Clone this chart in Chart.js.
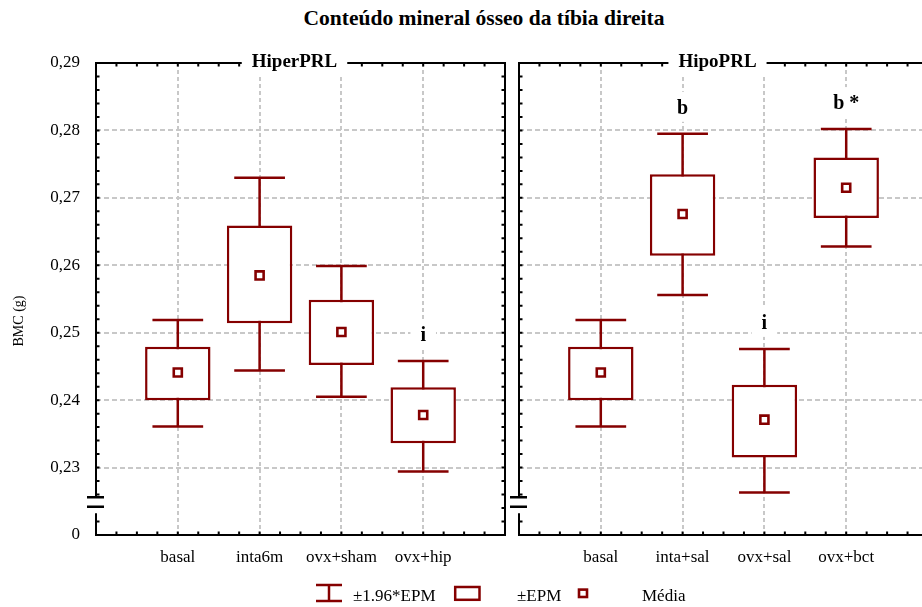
<!DOCTYPE html>
<html>
<head>
<meta charset="utf-8">
<script src="https://cdn.jsdelivr.net/npm/chart.js@4.4.1/dist/chart.umd.min.js"></script>
<style>
  html, body { margin: 0; padding: 0; background: #fff; }
  body { width: 922px; height: 607px; overflow: hidden; position: relative;
         font-family: "Liberation Serif", "Times New Roman", serif; color: #000; }
  #title { position: absolute; top: 6px; left: 484px; transform: translateX(-50%);
           white-space: nowrap; font-weight: bold; font-size: 21.5px; line-height: 24px; }
  canvas { position: absolute; top: 0; }
  #cLeft { left: 0; }
  #cRight { left: 506px; }
  #legIcons { position: absolute; left: 310px; top: 580px; }
  .legText { position: absolute; top: 586px; font-size: 17px; line-height: 20px; white-space: nowrap; }
</style>
</head>
<body>
<div id="title">Conteúdo mineral ósseo da tíbia direita</div>
<canvas id="cLeft" width="512" height="607"></canvas>
<canvas id="cRight" width="426" height="607"></canvas>

<svg id="legIcons" width="290" height="26" xmlns="http://www.w3.org/2000/svg">
  <g stroke="#850000" fill="none" stroke-width="2.5">
    <line x1="6" y1="5" x2="32" y2="5"/>
    <line x1="19" y1="5" x2="19" y2="21"/>
    <line x1="6" y1="21" x2="32" y2="21"/>
    <rect x="145.2" y="7" width="24.3" height="12.8"/>
    <rect x="269" y="9.6" width="8" height="7.4" stroke-width="2.6"/>
  </g>
</svg>
<div class="legText" style="left:353px">±1.96*EPM</div>
<div class="legText" style="left:517px">±EPM</div>
<div class="legText" style="left:642px">Média</div>

<script>
// ---- data ----
const yTickValues = [0.22, 0.23, 0.24, 0.25, 0.26, 0.27, 0.28, 0.29];
const yTickLabels = ['0', '0,23', '0,24', '0,25', '0,26', '0,27', '0,28', '0,29'];

// HiperPRL
const hiperCategories = ['basal', 'inta6m', 'ovx+sham', 'ovx+hip'];
const hiperMean    = [0.2441, 0.2585, 0.2501, 0.2378];
const hiperEpmLow  = [0.2400, 0.2514, 0.2452, 0.2336];
const hiperEpmHigh = [0.2479, 0.2659, 0.2549, 0.2419];
const hiperCiLow   = [0.2361, 0.2444, 0.2405, 0.2294];
const hiperCiHigh  = [0.2519, 0.2730, 0.2599, 0.2458];
const hiperMarks   = ['', '', '', 'i'];

// HipoPRL
const hipoCategories = ['basal', 'inta+sal', 'ovx+sal', 'ovx+bct'];
const hipoMean    = [0.2441, 0.2676, 0.2371, 0.2715];
const hipoEpmLow  = [0.2400, 0.2614, 0.2315, 0.2670];
const hipoEpmHigh = [0.2479, 0.2735, 0.2423, 0.2760];
const hipoCiLow   = [0.2361, 0.2556, 0.2263, 0.2628];
const hipoCiHigh  = [0.2519, 0.2795, 0.2476, 0.2802];
const hipoMarks   = ['', 'b', 'i', 'b *'];

// ---- style ----
const RED = '#850000';
const GRID = '#c8c8c8';
const FONT = '"Liberation Serif", "Times New Roman", serif';
const CLEAR = 'rgba(0,0,0,0)';

function panelPlugin(p) {
  return {
    id: 'panel',
    // ±1.96*EPM whiskers, drawn under the boxes
    beforeDatasetsDraw(chart) {
      const { ctx, scales: { x, y } } = chart;
      const half = (x.getPixelForValue(1) - x.getPixelForValue(0)) * 0.31;
      ctx.save();
      ctx.strokeStyle = RED;
      ctx.lineWidth = 2.5;
      p.cats.forEach((_, i) => {
        const px = x.getPixelForValue(i + 1);
        const lo = y.getPixelForValue(p.ciLow[i]);
        const hi = y.getPixelForValue(p.ciHigh[i]);
        ctx.beginPath();
        ctx.moveTo(px, lo); ctx.lineTo(px, hi);
        ctx.moveTo(px - half, lo); ctx.lineTo(px + half, lo);
        ctx.moveTo(px - half, hi); ctx.lineTo(px + half, hi);
        ctx.stroke();
      });
      ctx.restore();
    },
    afterDraw(chart) {
      const { ctx, chartArea: a, scales: { x, y } } = chart;
      const brkTop = a.bottom - 37.7, brkLow = a.bottom - 28.3, brkEnd = a.bottom - 21.7;
      ctx.save();
      ctx.strokeStyle = '#000';
      ctx.lineWidth = 2;
      // frame, with a broken left axis
      ctx.beginPath();
      ctx.moveTo(a.left, brkTop);
      ctx.lineTo(a.left, a.top);
      ctx.lineTo(a.right, a.top);
      ctx.lineTo(a.right, a.bottom);
      ctx.lineTo(a.left, a.bottom);
      ctx.lineTo(a.left, brkEnd);
      ctx.stroke();
      // axis break marks
      ctx.lineWidth = 2.5;
      ctx.beginPath();
      ctx.moveTo(a.left - 9, brkTop); ctx.lineTo(a.left + 8, brkTop);
      ctx.moveTo(a.left - 9, brkLow); ctx.lineTo(a.left + 8, brkLow);
      ctx.stroke();
      // inward minor ticks
      ctx.lineWidth = 2;
      const TL = 3.5;
      ctx.beginPath();
      for (let k = 1; k < 35; k++) {
        const py = y.getPixelForValue(0.22 + k * 0.002);
        if (py < brkTop - 2 || py > brkEnd + 2) {
          ctx.moveTo(a.left, py); ctx.lineTo(a.left + TL, py);
        }
        ctx.moveTo(a.right, py); ctx.lineTo(a.right - TL, py);
      }
      for (let k = 1; k < 20; k++) {
        const px = x.getPixelForValue(k * 0.25);
        ctx.moveTo(px, a.top); ctx.lineTo(px, a.top + TL);
        ctx.moveTo(px, a.bottom); ctx.lineTo(px, a.bottom - TL);
      }
      ctx.stroke();

      ctx.textAlign = 'center';
      // panel title set into the top border
      ctx.textBaseline = 'middle';
      ctx.font = 'bold 19px ' + FONT;
      const tx = (a.left + a.right) / 2 - 6;
      const tw = ctx.measureText(p.title).width;
      ctx.fillStyle = '#fff';
      ctx.fillRect(tx - tw / 2 - 10, a.top - 12, tw + 20, 24);
      ctx.fillStyle = '#000';
      ctx.fillText(p.title, tx, a.top - 1);

      // significance marks above the whiskers
      ctx.textBaseline = 'alphabetic';
      ctx.font = 'bold 20px ' + FONT;
      p.marks.forEach((m, i) => {
        if (!m) return;
        const px = x.getPixelForValue(i + 1);
        const base = y.getPixelForValue(p.ciHigh[i]) - 20;
        const w = ctx.measureText(m).width;
        ctx.fillStyle = '#fff';
        ctx.fillRect(px - w / 2 - 10, base - 22, w + 20, 30);
        ctx.fillStyle = '#000';
        ctx.fillText(m, px, base);
      });

      // y axis title
      if (p.yTitle) {
        ctx.save();
        ctx.translate(19, 321);
        ctx.rotate(-Math.PI / 2);
        ctx.textBaseline = 'middle';
        ctx.font = '14px ' + FONT;
        ctx.fillText(p.yTitle, 0, 0);
        ctx.restore();
      }
      ctx.restore();
    }
  };
}

function makePanel(id, p) {
  const labels = ['', ...p.cats, ''];
  const boxes = [null, ...p.cats.map((_, i) => [p.epmLow[i], p.epmHigh[i]]), null];
  const means = [null, ...p.mean, null];
  return new Chart(document.getElementById(id), {
    type: 'bar',
    data: {
      labels,
      datasets: [
        {
          type: 'line', label: 'Média', data: means, order: 1, showLine: false,
          pointStyle: 'rect', pointRadius: 5.7, pointBorderWidth: 2.6,
          pointBorderColor: RED, pointBackgroundColor: '#fff'
        },
        {
          label: '±EPM', data: boxes, order: 2,
          backgroundColor: '#fff', borderColor: RED, borderWidth: 2.5, borderSkipped: false,
          barPercentage: 0.8, categoryPercentage: 1.0
        }
      ]
    },
    options: {
      responsive: false, maintainAspectRatio: false, devicePixelRatio: 1,
      animation: false, events: [],
      layout: { autoPadding: false, padding: { left: 0, right: p.padRight, top: 63, bottom: 0 } },
      plugins: { legend: { display: false }, tooltip: { enabled: false } },
      scales: {
        x: {
          type: 'category', offset: false,
          grid: {
            offset: false,
            color: c => (c.index === 0 || c.index === labels.length - 1) ? CLEAR : GRID,
            lineWidth: 2, drawTicks: false
          },
          border: { display: false, dash: [4, 3] },
          ticks: { autoSkip: false, maxRotation: 0, minRotation: 0, padding: 12,
                   color: '#000', font: { family: FONT, size: 17 } },
          afterFit: s => { s.height = 72; s.paddingLeft = 0; s.paddingRight = 0; }
        },
        y: {
          type: 'linear', min: 0.22, max: 0.29,
          afterBuildTicks: s => { s.ticks = yTickValues.map(v => ({ value: v })); },
          grid: {
            color: c => (c.index === 0 || c.index === yTickValues.length - 1) ? CLEAR : GRID,
            lineWidth: 2, drawTicks: false
          },
          border: { display: false, dash: [5, 3] },
          ticks: {
            padding: 16, color: '#000', font: { family: FONT, size: 17 },
            callback: (v, i) => p.showYLabels ? yTickLabels[i] : ''
          },
          afterFit: s => { s.width = p.yWidth; }
        }
      }
    },
    plugins: [panelPlugin(p)]
  });
}

makePanel('cLeft', {
  title: 'HiperPRL', cats: hiperCategories, mean: hiperMean,
  epmLow: hiperEpmLow, epmHigh: hiperEpmHigh, ciLow: hiperCiLow, ciHigh: hiperCiHigh,
  marks: hiperMarks, showYLabels: true, yWidth: 96, padRight: 7, yTitle: 'BMC (g)'
});
makePanel('cRight', {
  title: 'HipoPRL', cats: hipoCategories, mean: hipoMean,
  epmLow: hipoEpmLow, epmHigh: hipoEpmHigh, ciLow: hipoCiLow, ciHigh: hipoCiHigh,
  marks: hipoMarks, showYLabels: false, yWidth: 13, padRight: 4, yTitle: ''
});
</script>
</body>
</html>
